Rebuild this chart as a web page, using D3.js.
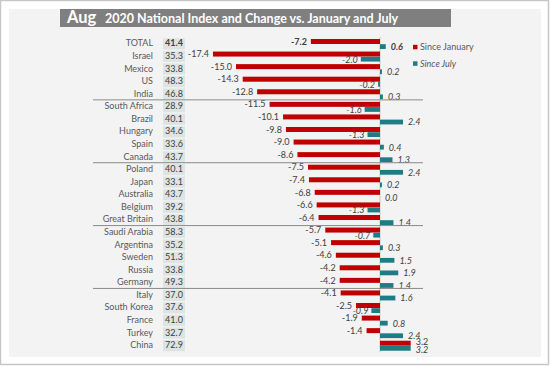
<!DOCTYPE html>
<html><head><meta charset="utf-8">
<script src="https://cdn.jsdelivr.net/npm/d3@7"></script>
<style>body{margin:0;background:#fff}svg{display:block}text{font-family:Lato,"Noto Sans",sans-serif}</style>
</head><body>
<script>
const countries = ["TOTAL","Israel","Mexico","US","India","South Africa","Brazil","Hungary","Spain","Canada","Poland","Japan","Australia","Belgium","Great Britain","Saudi Arabia","Argentina","Sweden","Russia","Germany","Italy","South Korea","France","Turkey","China"];
const indexValues = [41.4,35.3,33.8,48.3,46.8,28.9,40.1,34.6,33.6,43.7,40.1,33.1,43.7,39.2,43.8,58.3,35.2,51.3,33.8,49.3,37.0,37.6,41.0,32.7,72.9];
const sinceJanuary = [-7.2,-17.4,-15.0,-14.3,-12.8,-11.5,-10.1,-9.8,-9.0,-8.6,-7.5,-7.4,-6.8,-6.6,-6.4,-5.7,-5.1,-4.6,-4.2,-4.2,-4.1,-2.5,-1.9,-1.4,3.2];
const sinceJuly = [0.6,-2.0,0.2,-0.2,0.3,-1.6,2.4,-1.3,0.4,1.3,2.4,0.2,0.0,-1.3,1.4,-0.7,0.3,1.5,1.9,1.4,1.6,-0.9,0.8,2.4,3.2];
const groupBreaksAfter = ["India","Canada","Great Britain","Germany"];
const seriesNames = ["Since January","Since July"];
const colors = ["#c00000","#1f7b84"];

const W=550,H=366;
const svg=d3.select("body").append("svg").attr("width",W).attr("height",H);
svg.append("rect").attr("x",0.5).attr("y",0.5).attr("width",W-2).attr("height",H-2).attr("fill","#fff").attr("stroke","#c6c6c6").attr("stroke-width",1.5);
svg.append("rect").attr("x",9).attr("y",9).attr("width",532).attr("height",348).attr("fill","#f3f3f3");

// title
svg.append("rect").attr("x",60).attr("y",9).attr("width",391).attr("height",18).attr("fill","#7f7f7f");
const t=svg.append("text").attr("x",67).attr("y",23).attr("fill","#fff").attr("font-weight","bold");
t.append("tspan").attr("font-size",16.5).text("Aug");
t.append("tspan").attr("x",105).attr("font-size",12.5).text("2020 National Index and Change vs. January and July");

const y=d3.scaleBand().domain(countries).range([37,351.3]).padding(0);
const x=d3.scaleLinear().domain([-20,5]).range([188,428]);
const cy=c=>y(c)+y.bandwidth()/2;

// index boxes
const g=svg.append("g");
countries.forEach((c,i)=>{
  const bold = i===0;
  g.append("rect").attr("x",163).attr("y",cy(c)-5).attr("width",22).attr("height",11.2).attr("fill","#dde4e4");
  g.append("text").attr("x",174).attr("y",cy(c)).attr("dy","0.35em").attr("text-anchor","middle")
   .attr("font-size",9).attr("fill","#404040").attr("font-weight",bold?"bold":"normal").text(indexValues[i].toFixed(1));
  g.append("text").attr("x",153).attr("y",cy(c)).attr("dy","0.35em").attr("text-anchor","end")
   .attr("font-size",9).attr("fill","#595959").text(c);
});

// zero line
svg.append("line").attr("x1",x(0)).attr("x2",x(0)).attr("y1",37).attr("y2",352).attr("stroke","#c8c8c8").attr("stroke-width",1);

// bars
countries.forEach((c,i)=>{
  const vj=sinceJanuary[i], vl=sinceJuly[i];
  const bold=i===0;
  const both = vj>0 && vl>0;
  svg.append("rect").attr("x",x(Math.min(0,vj))).attr("y",cy(c)-4.3).attr("width",Math.abs(x(vj)-x(0))).attr("height",5).attr("fill",colors[0]);
  svg.append("rect").attr("x",x(Math.min(0,vl))).attr("y",cy(c)+0.9).attr("width",Math.max(Math.abs(x(vl)-x(0)),vl===0?0:1)).attr("height",4.8).attr("fill",colors[1]);
  svg.append("text").attr("x",vj<0?x(vj)-4:x(vj)+5).attr("y",cy(c)-(both?2.8:1.8)).attr("dy","0.35em")
    .attr("text-anchor",vj<0?"end":"start").attr("font-size",9).attr("fill","#404040").attr("font-weight",bold?"bold":"normal").text(vj.toFixed(1));
  svg.append("text").attr("x",vl<0?x(vl)-3:x(Math.max(vl,0))+5).attr("y",cy(c)+(both?4.6:3.6)).attr("dy","0.35em")
    .attr("text-anchor",vl<0?"end":"start").attr("font-size",9).attr("font-style","italic").attr("fill","#404040").attr("font-weight",bold?"bold":"normal").text(vl.toFixed(1));
});

// separators
groupBreaksAfter.forEach(c=>{
  const yy=y(c)+y.bandwidth();
  svg.append("line").attr("x1",93).attr("x2",423).attr("y1",yy).attr("y2",yy).attr("stroke","#8a8a8a").attr("stroke-width",1);
});

// legend
seriesNames.forEach((s,i)=>{
  const ly=47+i*16.5;
  svg.append("rect").attr("x",413).attr("y",ly-2.2).attr("width",4.5).attr("height",4.5).attr("fill",colors[i]);
  svg.append("text").attr("x",420).attr("y",ly).attr("dy","0.35em").attr("font-size",9).attr("fill","#595959").attr("font-style",i===1?"italic":"normal").text(s);
});
</script>
</body></html>
